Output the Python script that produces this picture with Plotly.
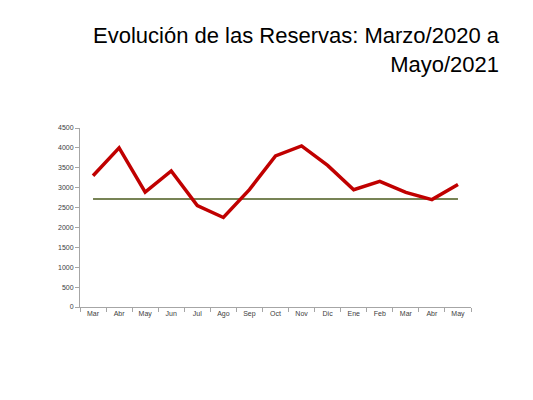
"""Evolución de las Reservas, Marzo/2020 a Mayo/2021 — line chart with reference level."""

import plotly.graph_objects as go

# Data
months = ["Mar", "Abr", "May", "Jun", "Jul", "Ago", "Sep", "Oct",
          "Nov", "Dic", "Ene", "Feb", "Mar", "Abr", "May"]
reservas = [3300, 4000, 2890, 3420, 2550, 2250, 2950, 3800,
            4050, 3560, 2950, 3160, 2880, 2700, 3080]
nivel_ref = 2715
y_ticks = [0, 500, 1000, 1500, 2000, 2500, 3000, 3500, 4000, 4500]

_RED = "#C00000"
_OLIVE = "#4A5A1C"
_AXIS = "#A6A6A6"
_TEXT = "#404040"

# page body adds an 8px offset, so the margins are shifted to compensate
x_pos = list(range(len(months)))

fig = go.Figure()
fig.add_trace(
    go.Scatter(
        x=x_pos,
        y=[nivel_ref] * len(months),
        mode="lines",
        line={"color": _OLIVE, "width": 1.3},
        showlegend=False,
    )
)
fig.add_trace(
    go.Scatter(
        x=x_pos,
        y=reservas,
        mode="lines",
        line={"color": _RED, "width": 3.5},
        showlegend=False,
    )
)

fig.update_xaxes(
    range=[-0.5, len(months) - 0.5],
    tickvals=x_pos,
    ticktext=months,
    ticks="",
    showline=True,
    linecolor=_AXIS,
    linewidth=1,
    showgrid=False,
    zeroline=False,
    tickfont={"family": "Liberation Sans, Arial", "size": 7, "color": _TEXT},
    minor={"ticks": "outside", "ticklen": 4, "tickcolor": _AXIS, "tick0": -0.5, "dtick": 1, "showgrid": False},
)
fig.update_yaxes(
    range=[0, 4500],
    tickvals=y_ticks,
    ticks="outside",
    ticklen=4,
    tickcolor=_AXIS,
    showline=True,
    linecolor=_AXIS,
    linewidth=1,
    showgrid=False,
    zeroline=False,
    tickfont={"family": "Liberation Sans, Arial", "size": 7, "color": _TEXT},
)

fig.add_annotation(
    text="Evolución de las Reservas: Marzo/2020 a<br>Mayo/2021",
    xref="paper",
    yref="paper",
    x=(502 - 80) / 391,
    y=(307 - 21) / 179,
    xanchor="right",
    yanchor="top",
    align="right",
    showarrow=False,
    font={"family": "Liberation Sans, Arial", "size": 22, "color": "#000000"},
)

fig.update_layout(
    width=533,
    height=400,
    margin={"l": 72, "r": 70, "t": 120, "b": 101},
    plot_bgcolor="white",
    paper_bgcolor="white",
)

fig.write_html("out.html")
